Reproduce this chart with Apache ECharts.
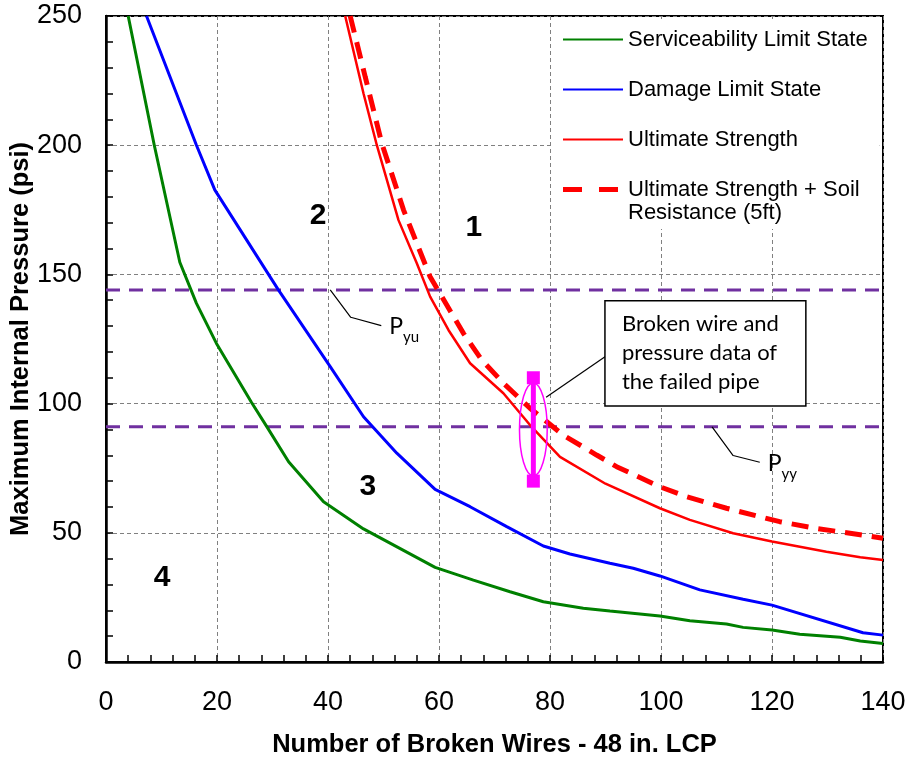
<!DOCTYPE html>
<html><head><meta charset="utf-8">
<script src="https://cdn.jsdelivr.net/npm/echarts@6/dist/echarts.min.js"></script>
<style>html,body{margin:0;padding:0;background:#fff}#c{width:909px;height:762px}</style>
</head><body><div id="c"></div>
<script>
// ---- data ----
const slsX = [4.0, 8.7, 13.3, 16.3, 19.9, 26.2, 29.0, 32.9, 39.2, 46.4, 59.3, 66.2, 72.8, 78.8, 86, 90.8, 99.8, 105.2, 111.8, 114.8, 120, 125, 132.3, 135.9, 140];
const slsY = [250, 200, 154.7, 138.8, 123.3, 100.5, 91, 77.5, 62, 51.5, 36.6, 31.7, 27.2, 23.3, 20.8, 19.7, 17.8, 16, 14.7, 13.4, 12.4, 10.7, 9.6, 8.1, 7.2];
const dlsX = [7.3, 16.3, 19.6, 31, 40.4, 46.4, 52.4, 59.3, 65.6, 72.2, 78.8, 83.6, 90.8, 95, 99.8, 107, 114.8, 120, 136.4, 140];
const dlsY = [250, 200, 182.7, 144.2, 114.3, 94.9, 80.8, 66.8, 60.1, 52.4, 44.9, 41.8, 38.2, 36.3, 33.3, 27.9, 24.3, 22, 11.3, 10.4];
const usX = [43.1, 46.4, 48.8, 52.7, 56, 58.4, 61.7, 65.6, 71.6, 76.4, 81.8, 90, 99.8, 105.2, 113, 120, 129.8, 135.9, 140];
const usY = [250, 220, 200, 171, 154.3, 141.4, 128.5, 115.6, 104, 91.7, 79.4, 69, 59.5, 55, 49.8, 46.6, 42.7, 40.5, 39.5];
const ussX = [44, 46.7, 49.7, 53.6, 58.4, 64.4, 67.7, 71.6, 76.4, 82.4, 88.4, 92, 99.8, 104.6, 111.8, 121.4, 128, 136.4, 140];
const ussY = [250, 226.5, 200.7, 175, 149.1, 127.2, 116.9, 107.9, 98.2, 87.8, 80.1, 75.6, 67.8, 64, 59.5, 54.3, 51.7, 49.1, 47.9];
const seriesNames = ['Serviceability Limit State', 'Damage Limit State', 'Ultimate Strength', 'Ultimate Strength + Soil Resistance (5ft)'];
const legendLine1 = 'Ultimate Strength + Soil';
const legendLine2 = 'Resistance (5ft)';
const pyuValue = 144;
const pyyValue = 91;
const failedWires = 77;
const failedPressureHigh = 110;
const failedPressureLow = 70;
const regionNames = ['1', '2', '3', '4'];
const regionX = [66.3, 38.2, 47.2, 10.1];
const regionY = [168, 172.6, 67.7, 32.5];
const xTicks = [0, 20, 40, 60, 80, 100, 120, 140];
const yTicks = [0, 50, 100, 150, 200, 250];
// annotation anchors (data coords)
const pyuLeader = [[40.4, 144], [44.1, 133.4], [49.6, 130.2]];
const pyyLeader = [[109.2, 91], [113, 79.9], [117.8, 77.3]];
const failLeader = [[79.3, 102.5], [90.5, 119]];
const failBox = [89.9, 139.8, 126.1, 99.1];
const failText = 'Broken wire and\npressure data of\nthe failed pipe';

const zip = (xs, ys) => xs.map((x, i) => [x, ys[i]]);
const AR = 'Liberation Sans';
const CAL = 'Lato';

const chart = echarts.init(document.getElementById('c'));
const axisCommon = {
  type: 'value',
  axisLine: {show: true, lineStyle: {color: '#000', width: 2.5}},
  axisTick: {show: true, inside: true, length: 7, lineStyle: {color: '#000', width: 1.5}},
  minorTick: {show: true, splitNumber: 5, length: 7, lineStyle: {color: '#000', width: 1.5}},
  splitLine: {show: true, lineStyle: {color: '#808080', width: 1, type: [4, 3]}},
  axisLabel: {color: '#000', fontFamily: AR, fontSize: 27},
  nameTextStyle: {color: '#000', fontFamily: AR, fontSize: 25.5, fontWeight: 'bold'},
  nameLocation: 'middle',
  nameMoveOverlap: false
};
const leaderLine = (d) => ({type: 'line', data: d, symbol: 'none', silent: true, z: 5,
  lineStyle: {color: '#000', width: 1.2}, animation: false});

chart.setOption({
  animation: false,
  backgroundColor: '#fff',
  grid: {left: 106, top: 16, right: 26, bottom: 100, show: true, borderColor: '#000', borderWidth: 2,
    containLabel: false, outerBoundsMode: 'none'},
  xAxis: Object.assign({}, axisCommon, {min: xTicks[0], max: xTicks[xTicks.length - 1], interval: 20,
    name: 'Number of Broken Wires - 48 in. LCP', nameGap: 70,
    axisLabel: Object.assign({}, axisCommon.axisLabel, {margin: 27})}),
  yAxis: Object.assign({}, axisCommon, {min: yTicks[0], max: yTicks[yTicks.length - 1], interval: 50,
    name: 'Maximum Internal Pressure (psi)', nameGap: 72,
    axisLabel: Object.assign({}, axisCommon.axisLabel, {margin: 24})}),
  legend: {
    orient: 'vertical', left: 552, top: 19, selectedMode: false,
    backgroundColor: '#fff', padding: [8, 12, 27, 8.5],
    itemWidth: 60, itemHeight: 14, itemGap: 25,
    itemStyle: {opacity: 0},
    textStyle: {fontFamily: AR, fontSize: 22, color: '#000', lineHeight: 25},
    data: [seriesNames[0], seriesNames[1], seriesNames[2],
      {name: seriesNames[3], lineStyle: {type: [19, 17], width: 5}}],
    formatter: (n) => n === seriesNames[3] ? legendLine1 : n
  },
  graphic: [
    {type: 'text', left: 628, top: 200, z: 100,
      style: {text: legendLine2, fontFamily: AR, fontSize: 22, lineHeight: 25, fill: '#000'}}
  ],
  series: [
    {type: 'line', name: 'Pyu', data: [[xTicks[0], pyuValue], [xTicks[xTicks.length - 1], pyuValue]], symbol: 'none', silent: true, z: 3,
      lineStyle: {color: '#7030A0', width: 3, type: [14, 9]}},
    {type: 'line', name: 'Pyy', data: [[xTicks[0], pyyValue], [xTicks[xTicks.length - 1], pyyValue]], symbol: 'none', silent: true, z: 3,
      lineStyle: {color: '#7030A0', width: 3, type: [14, 9]}},
    {type: 'line', name: seriesNames[0], data: zip(slsX, slsY), symbol: 'none', z: 4,
      lineStyle: {color: '#008000', width: 3}, itemStyle: {color: '#008000'}},
    {type: 'line', name: seriesNames[1], data: zip(dlsX, dlsY), symbol: 'none', z: 4,
      lineStyle: {color: '#0000FF', width: 3}, itemStyle: {color: '#0000FF'}},
    {type: 'line', name: seriesNames[2], data: zip(usX, usY), symbol: 'none', z: 4,
      lineStyle: {color: '#FF0000', width: 2.5}, itemStyle: {color: '#FF0000'}},
    {type: 'line', name: seriesNames[3], data: zip(ussX, ussY), symbol: 'none', z: 4,
      lineStyle: {color: '#FF0000', width: 5, type: [17, 10]}, itemStyle: {color: '#FF0000'}},
    leaderLine(pyuLeader),
    leaderLine(pyyLeader),
    leaderLine(failLeader),
    {type: 'line', data: [[failedWires, failedPressureHigh], [failedWires, failedPressureLow]], symbol: 'rect', symbolSize: 13,
      silent: true, z: 6, lineStyle: {color: '#FF00FF', width: 5}, itemStyle: {color: '#FF00FF'}},
    {type: 'custom', silent: true, z: 6, data: [[failedWires, (failedPressureHigh + failedPressureLow) / 2, 2.5, 18]],
      renderItem: (p, api) => {
        const c = api.coord([api.value(0), api.value(1)]);
        const s = api.size([api.value(2), api.value(3)]);
        return {type: 'ellipse', shape: {cx: c[0], cy: c[1], rx: s[0], ry: s[1]},
          style: {fill: 'none', stroke: '#FF00FF', lineWidth: 1.5}};
      }},
    {type: 'custom', silent: true, z: 7, data: [failBox],
      renderItem: (p, api) => {
        const a = api.coord([api.value(0), api.value(1)]);
        const b = api.coord([api.value(2), api.value(3)]);
        return {type: 'group', children: [
          {type: 'rect', shape: {x: a[0], y: a[1], width: b[0] - a[0], height: b[1] - a[1]},
            style: {fill: '#fff', stroke: '#000', lineWidth: 1.5}},
          {type: 'text', style: {text: failText, x: a[0] + 17, y: (a[1] + b[1]) / 2, verticalAlign: 'middle',
            fontFamily: CAL, fontSize: 22, lineHeight: 29, fill: '#000'}}
        ]};
      }},
    {type: 'scatter', silent: true, z: 7, symbolSize: 0, itemStyle: {opacity: 1},
      data: [{value: pyuLeader[2], name: 'yu'}, {value: pyyLeader[2], name: 'yy'}],
      label: {show: true, position: 'right', distance: 8, formatter: (p) => '{p|P}{s|' + p.name + '}',
        rich: {p: {fontFamily: CAL, fontSize: 23, color: '#000', lineHeight: 26, verticalAlign: 'bottom'},
               s: {fontFamily: CAL, fontSize: 15, color: '#000', lineHeight: 26, verticalAlign: 'bottom', padding: [0, 0, -6, 0]}}}},
    {type: 'scatter', silent: true, z: 7, symbolSize: 0, itemStyle: {opacity: 1},
      data: regionNames.map((n, i) => ({name: n, value: [regionX[i], regionY[i]]})),
      label: {show: true, position: 'inside', formatter: '{b}', fontFamily: AR, fontWeight: 'bold', fontSize: 30, color: '#000'}}
  ]
});
</script></body></html>
